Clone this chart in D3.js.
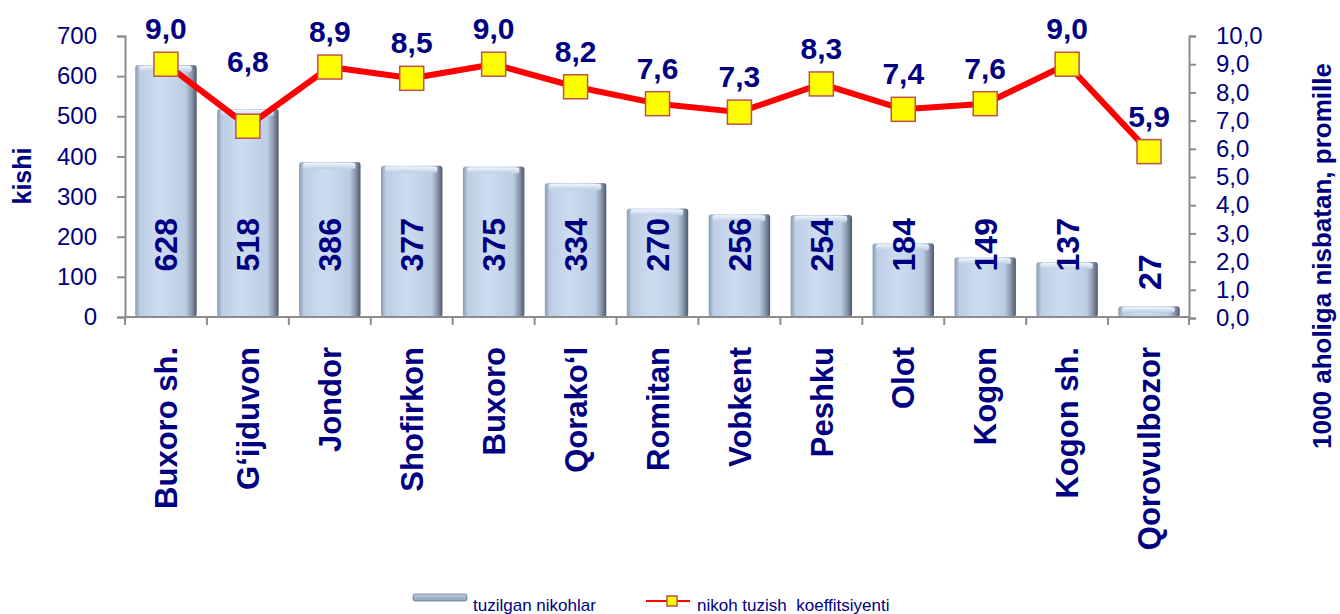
<!DOCTYPE html>
<html>
<head>
<meta charset="utf-8">
<script src="https://cdn.jsdelivr.net/npm/d3@7"></script>
<style>
  body { margin: 0; background: #fff; }
  svg { font-family: "Liberation Sans", Arial, sans-serif; }
</style>
</head>
<body>
<div id="chart"></div>
<script>
var categories = ['Buxoro sh.', 'G\u2018ijduvon', 'Jondor', 'Shofirkon', 'Buxoro', 'Qorako\u2018l',
  'Romitan', 'Vobkent', 'Peshku', 'Olot', 'Kogon', 'Kogon sh.', 'Qorovulbozor'];
var marriages = [628, 518, 386, 377, 375, 334, 270, 256, 254, 184, 149, 137, 27];
var rate = [9.0, 6.8, 8.9, 8.5, 9.0, 8.2, 7.6, 7.3, 8.3, 7.4, 7.6, 9.0, 5.9];
var leftTicks = [0, 100, 200, 300, 400, 500, 600, 700];
var rightTicks = [0, 1, 2, 3, 4, 5, 6, 7, 8, 9, 10];
var seriesNames = ['tuzilgan nikohlar', 'nikoh tuzish  koeffitsiyenti'];

var width = 1340, height = 614;
var navy = '#000080', axisGrey = '#8c8c8c';
var plotLeft = 125, plotRight = 1190, plotTop = 36, plotBottom = 317;

var svg = d3.select('#chart').append('svg')
  .attr('width', width)
  .attr('height', height);

var defs = svg.append('defs');
var g1 = defs.append('linearGradient').attr('id', 'barGrad').attr('x1', 0).attr('x2', 1).attr('y1', 0).attr('y2', 0);
[['0%', '#8a9ab0'], ['8%', '#bccde4'], ['40%', '#cddcf1'], ['82%', '#bccde3'], ['92%', '#8896aa'], ['100%', '#4d596b']]
  .forEach(function(s) { g1.append('stop').attr('offset', s[0]).attr('stop-color', s[1]); });
var g2 = defs.append('linearGradient').attr('id', 'topGrad').attr('x1', 0).attr('x2', 0).attr('y1', 0).attr('y2', 1);
[['0%', '#f2f6fc'], ['100%', '#bccde4']]
  .forEach(function(s) { g2.append('stop').attr('offset', s[0]).attr('stop-color', s[1]); });
var g3 = defs.append('linearGradient').attr('id', 'baseGrad').attr('x1', 0).attr('x2', 0).attr('y1', 0).attr('y2', 1);
[['0%', '#bccde4'], ['100%', '#8d9bb0']]
  .forEach(function(s) { g3.append('stop').attr('offset', s[0]).attr('stop-color', s[1]); });

var x = d3.scaleBand().domain(categories).range([plotLeft, plotRight]).paddingInner(0).paddingOuter(0);
var yL = d3.scaleLinear().domain([0, 700]).range([plotBottom, plotTop]);
var yR = d3.scaleLinear().domain([0, 10]).range([plotBottom + 1, plotTop]);
var barW = x.bandwidth() * 0.75;
function cx(i) { return x(categories[i]) + x.bandwidth() / 2; }

// bars
var bars = svg.append('g').selectAll('g.bar')
  .data(marriages)
  .enter().append('g').attr('class', 'bar');

bars.append('rect')
  .attr('x', function(d, i) { return cx(i) - barW / 2; })
  .attr('y', function(d) { return yL(d); })
  .attr('width', barW)
  .attr('height', function(d) { return plotBottom - yL(d); })
  .attr('rx', 3)
  .attr('fill', 'url(#barGrad)');

bars.append('rect')
  .attr('x', function(d, i) { return cx(i) - barW / 2 + 4; })
  .attr('y', function(d) { return yL(d) + 1; })
  .attr('width', barW - 9)
  .attr('height', function(d) { return Math.min(6, (plotBottom - yL(d)) / 2); })
  .attr('rx', 2)
  .attr('fill', 'url(#topGrad)');

bars.append('text')
  .attr('transform', function(d, i) {
    var cy = d < 60 ? yL(d) - 34 : yL(180);
    return 'translate(' + cx(i) + ',' + cy + ') rotate(-90)';
  })
  .attr('text-anchor', 'middle')
  .attr('dy', '0.36em')
  .attr('fill', navy)
  .attr('font-weight', 'bold')
  .attr('font-size', 32)
  .text(function(d) { return d; });

// axes
var axL = svg.append('g')
  .attr('transform', 'translate(' + plotLeft + ',0)')
  .call(d3.axisLeft(yL).tickValues(leftTicks).tickSize(8).tickPadding(20).tickFormat(d3.format('d')));
var axR = svg.append('g')
  .attr('transform', 'translate(' + (plotRight - 1) + ',0)')
  .call(d3.axisRight(yR).tickValues(rightTicks).tickSize(7).tickPadding(20)
    .tickFormat(function(d) { return d3.format('.1f')(d).replace('.', ','); }));
var axB = svg.append('g')
  .attr('transform', 'translate(0,' + plotBottom + ')')
  .call(d3.axisBottom(x).tickSize(0).tickFormat(''));

[axL, axR, axB].forEach(function(a) {
  a.select('.domain').attr('stroke', axisGrey).attr('stroke-width', 2);
  a.selectAll('.tick line').attr('stroke', axisGrey).attr('stroke-width', 2);
  a.selectAll('.tick text').attr('fill', navy).attr('font-size', 24)
    .attr('font-family', '"Liberation Sans", Arial, sans-serif');
});
axB.select('.domain').attr('d', 'M' + plotLeft + ',0H' + (plotRight - 1));

// category separators
var bounds = categories.map(function(c) { return x(c); }).concat([plotRight - 1]);
svg.append('g').selectAll('line')
  .data(bounds)
  .enter().append('line')
  .attr('x1', function(d) { return d; })
  .attr('x2', function(d) { return d; })
  .attr('y1', plotBottom)
  .attr('y2', plotBottom + 8)
  .attr('stroke', axisGrey)
  .attr('stroke-width', 2);

// category labels
svg.append('g').selectAll('text')
  .data(categories)
  .enter().append('text')
  .attr('transform', function(d, i) {
    return 'translate(' + cx(i) + ',' + (plotBottom + 30) + ') rotate(-90)';
  })
  .attr('text-anchor', 'end')
  .attr('dy', '0.36em')
  .attr('fill', navy)
  .attr('font-weight', 'bold')
  .attr('font-size', 31)
  .text(function(d) { return d; });

// line series
var line = d3.line()
  .x(function(d, i) { return cx(i); })
  .y(function(d) { return yR(d); });

svg.append('path')
  .datum(rate)
  .attr('d', line)
  .attr('fill', 'none')
  .attr('stroke', '#ff0000')
  .attr('stroke-width', 6)
  .attr('stroke-linejoin', 'round');

svg.append('g').selectAll('rect')
  .data(rate)
  .enter().append('rect')
  .attr('x', function(d, i) { return cx(i) - 12; })
  .attr('y', function(d) { return yR(d) - 12; })
  .attr('width', 24)
  .attr('height', 24)
  .attr('fill', '#ffff00')
  .attr('stroke', '#c0504d')
  .attr('stroke-width', 1.5);

// point labels; lifted above the bar when the marker sits inside it
svg.append('g').selectAll('text')
  .data(rate)
  .enter().append('text')
  .attr('x', function(d, i) { return cx(i); })
  .attr('y', function(d, i) {
    var my = yR(d), barTop = yL(marriages[i]);
    return my > barTop + 2 ? barTop - 37 : my - 25;
  })
  .attr('text-anchor', 'middle')
  .attr('fill', navy)
  .attr('font-weight', 'bold')
  .attr('font-size', 30)
  .text(function(d) { return d3.format('.1f')(d).replace('.', ','); });

// axis titles
svg.append('text')
  .attr('transform', 'translate(22,176) rotate(-90)')
  .attr('text-anchor', 'middle')
  .attr('dy', '0.36em')
  .attr('fill', navy)
  .attr('font-weight', 'bold')
  .attr('font-size', 25)
  .text('kishi');

svg.append('text')
  .attr('transform', 'translate(1322,256) rotate(-90)')
  .attr('text-anchor', 'middle')
  .attr('dy', '0.36em')
  .attr('fill', navy)
  .attr('font-weight', 'bold')
  .attr('font-size', 26)
  .text('1000 aholiga nisbatan, promille');

// legend
var legend = svg.append('g');
legend.append('rect')
  .attr('x', 413).attr('y', 594).attr('width', 54).attr('height', 7).attr('rx', 2)
  .attr('fill', 'url(#baseGrad)').attr('stroke', '#6a788c').attr('stroke-width', 0.8);
legend.append('text')
  .attr('x', 473).attr('y', 611)
  .attr('fill', navy).attr('font-size', 17)
  .text(seriesNames[0]);
legend.append('line')
  .attr('x1', 646).attr('x2', 690).attr('y1', 601).attr('y2', 601)
  .attr('stroke', '#ff0000').attr('stroke-width', 2);
legend.append('rect')
  .attr('x', 667).attr('y', 596).attr('width', 10).attr('height', 10)
  .attr('fill', '#ffff00').attr('stroke', '#c0504d').attr('stroke-width', 1.5);
legend.append('text')
  .attr('x', 697).attr('y', 611)
  .attr('fill', navy).attr('font-size', 17)
  .style('white-space', 'pre')
  .text(seriesNames[1]);
</script>
</body>
</html>
